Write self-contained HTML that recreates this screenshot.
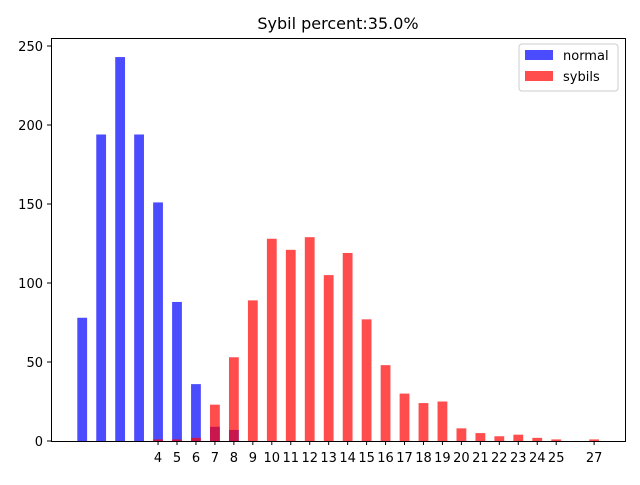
<!DOCTYPE html>
<html><head><meta charset="utf-8"><style>
body{margin:0;background:#fff;font-family:"Liberation Sans","DejaVu Sans",sans-serif}
svg text{font-family:"DejaVu Sans","Liberation Sans",sans-serif;font-size:13px;fill:#000}
</style></head><body>
<svg id="chart" width="640" height="480" viewBox="0 0 640 480">
<rect width="640" height="480" fill="#fff"/>
<text x="338" y="29" text-anchor="middle" style="font-size:16px">Sybil percent:35.0%</text>
<g id="bars"></g>
<rect x="51.5" y="38.5" width="574" height="403" fill="none" stroke="#000" stroke-width="1"/>
<g id="axes"></g>
<g>
<rect x="519" y="44" width="99" height="47" rx="3" fill="#fff" fill-opacity="0.8" stroke="#ccc"/>
<rect x="525" y="50" width="28" height="10" fill="#0000ff" fill-opacity="0.7"/>
<text x="563" y="60">normal</text>
<rect x="525" y="71" width="28" height="10" fill="#ff0000" fill-opacity="0.7"/>
<text x="563" y="81">sybils</text>
</g>
</svg>
<script>
const normalX=[0,1,2,3,4,5,6,7,8];
const normalVals=[78,194,243,194,151,88,36,9,7];
const sybilX=[4,5,6,7,8,9,10,11,12,13,14,15,16,17,18,19,20,21,22,23,24,25,27];
const sybilVals=[1,1,2,23,53,89,128,121,129,105,119,77,48,30,24,25,8,5,3,4,2,1,1];
const xTicks=[4,5,6,7,8,9,10,11,12,13,14,15,16,17,18,19,20,21,22,23,24,25,27];
const yTicks=[0,50,100,150,200,250];
const NS='http://www.w3.org/2000/svg';
const xs=v=>82.2+v*18.96;
const ys=v=>441-v*1.58;
const bars=document.getElementById('bars'),axes=document.getElementById('axes');
function bar(x,v,color,name){
 const r=document.createElementNS(NS,'rect');
 r.setAttribute('x',xs(x)-4.9);r.setAttribute('width',9.8);
 r.setAttribute('y',ys(v));r.setAttribute('height',ys(0)-ys(v));
 r.setAttribute('fill',color);r.setAttribute('fill-opacity','0.7');
 
 
 bars.appendChild(r);
}
normalX.forEach((x,i)=>bar(x,normalVals[i],'#0000ff','bar-normal-'+x));
sybilX.forEach((x,i)=>bar(x,sybilVals[i],'#ff0000','bar-sybils-'+x));
xTicks.forEach(t=>{
 const l=document.createElementNS(NS,'line');
 l.setAttribute('x1',xs(t));l.setAttribute('x2',xs(t));l.setAttribute('y1',441);l.setAttribute('y2',445);l.setAttribute('stroke','#000');
 
 
 axes.appendChild(l);
 const tx=document.createElementNS(NS,'text');
 tx.setAttribute('x',xs(t));tx.setAttribute('y',462);tx.setAttribute('text-anchor','middle');tx.textContent=t;
 
 
 axes.appendChild(tx);
});
yTicks.forEach(t=>{
 const l=document.createElementNS(NS,'line');
 l.setAttribute('x1',47);l.setAttribute('x2',51);l.setAttribute('y1',ys(t));l.setAttribute('y2',ys(t));l.setAttribute('stroke','#000');
 
 
 axes.appendChild(l);
 const tx=document.createElementNS(NS,'text');
 tx.setAttribute('x',43);tx.setAttribute('y',ys(t)+5);tx.setAttribute('text-anchor','end');tx.textContent=t;
 
 
 axes.appendChild(tx);
});
</script>
</body></html>
